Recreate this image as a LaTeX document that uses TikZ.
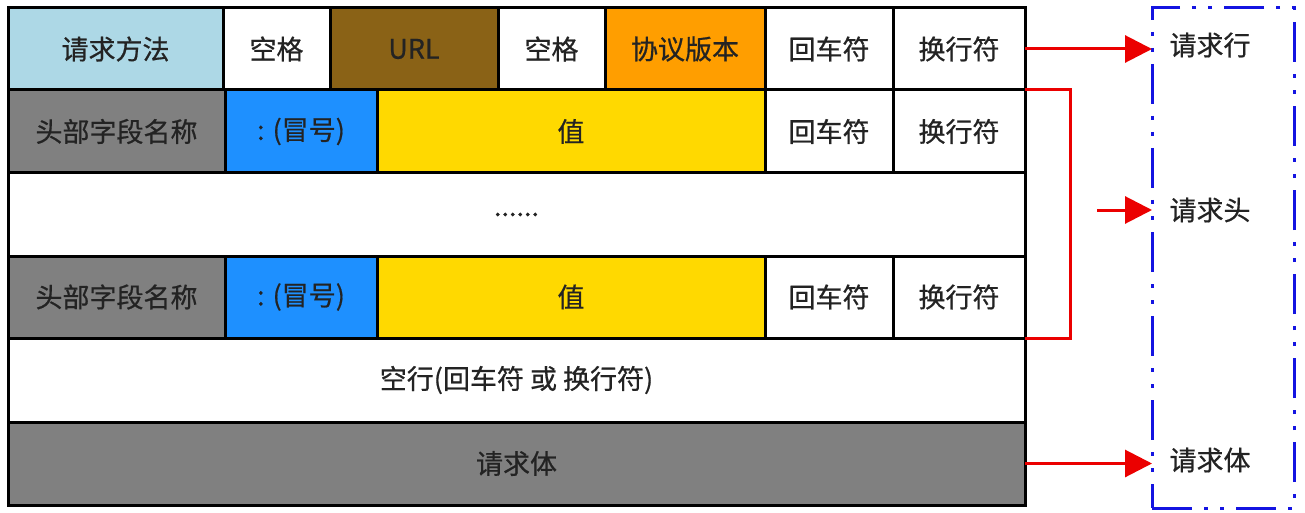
\documentclass[tikz,border=0pt]{standalone}
\usepackage{fontspec}
\setmainfont{Noto Sans CJK SC}[FakeBold=0.6]
\usetikzlibrary{arrows.meta}
\definecolor{cmethod}{RGB}{173,216,230}
\definecolor{curl}{RGB}{138,98,22}
\definecolor{cver}{RGB}{255,158,0}
\definecolor{cgray}{RGB}{128,128,128}
\definecolor{ccolon}{RGB}{30,144,255}
\definecolor{cval}{RGB}{255,217,0}
\definecolor{ctext}{RGB}{35,35,35}
\definecolor{cred}{RGB}{235,0,0}
\definecolor{cblue}{RGB}{20,20,225}
\begin{document}
\begin{tikzpicture}[x=1pt,y=-1pt,
  cell/.style={draw=black, line width=3pt, inner sep=0pt, outer sep=0pt, anchor=north west,
    text=ctext, font=\fontsize{27}{32}\selectfont},
  redarrow/.style={draw=cred, line width=3pt, -{Triangle[length=27pt,width=27pt]}},
  lbl/.style={text=ctext, font=\fontsize{27}{32}\selectfont, inner sep=0pt}]
\useasboundingbox (0,0) rectangle (1305,513);
\fill[white] (0,0) rectangle (1305,513);
% row 1
\node[cell, fill=cmethod, minimum width=215pt, minimum height=82pt] (m) at (8,8) {请求方法};
\node[cell, fill=white, minimum width=107pt, minimum height=82pt] (sp1) at (223,8) {空格};
\node[cell, fill=curl, minimum width=168pt, minimum height=82pt] (url) at (330,8) {URL};
\node[cell, fill=white, minimum width=107pt, minimum height=82pt] (sp2) at (498,8) {空格};
\node[cell, fill=cver, minimum width=160pt, minimum height=82pt] (ver) at (605,8) {协议版本};
\node[cell, fill=white, minimum width=128pt, minimum height=82pt] (cr1) at (765,8) {回车符};
\node[cell, fill=white, minimum width=132pt, minimum height=82pt] (lf1) at (893,8) {换行符};
% row 2
\node[cell, fill=cgray, minimum width=217pt, minimum height=83pt] (h1) at (8,90) {头部字段名称};
\node[cell, fill=ccolon, minimum width=152pt, minimum height=83pt] (c1) at (225,90) {: (冒号)};
\node[cell, fill=cval, minimum width=388pt, minimum height=83pt] (v1) at (377,90) {值};
\node[cell, fill=white, minimum width=128pt, minimum height=83pt] (cr2) at (765,90) {回车符};
\node[cell, fill=white, minimum width=132pt, minimum height=83pt] (lf2) at (893,90) {换行符};
% row 3
\node[cell, fill=white, minimum width=1017pt, minimum height=83pt] (dots) at (8,173) {......};
% row 4
\node[cell, fill=cgray, minimum width=217pt, minimum height=82pt] (h2) at (8,256) {头部字段名称};
\node[cell, fill=ccolon, minimum width=152pt, minimum height=82pt] (c2) at (225,256) {: (冒号)};
\node[cell, fill=cval, minimum width=388pt, minimum height=82pt] (v2) at (377,256) {值};
\node[cell, fill=white, minimum width=128pt, minimum height=82pt] (cr3) at (765,256) {回车符};
\node[cell, fill=white, minimum width=132pt, minimum height=82pt] (lf3) at (893,256) {换行符};
% row 5
\node[cell, fill=white, minimum width=1017pt, minimum height=84pt] (blank) at (8,338) {空行(回车符 或 换行符)};
% row 6
\node[cell, fill=cgray, minimum width=1017pt, minimum height=83pt] (body) at (8,422) {请求体};
% legend box
\node[draw=cblue, line width=3pt, dash pattern=on 40pt off 12pt on 4pt off 12pt on 4pt off 12pt,
  minimum width=142pt, minimum height=500pt, inner sep=0pt, outer sep=0pt, anchor=north west] (legend) at (1152,8) {};
\node[lbl] (lrl) at (1210,45) {请求行};
\node[lbl] (lrh) at (1210,210) {请求头};
\node[lbl] (lrb) at (1210,460) {请求体};
% connectors
\draw[redarrow] (lf1.east) -- (legend.west |- lf1.east);
\draw[redarrow] (body.east) -- (legend.west |- body.east);
\coordinate (bt) at (1070,90);
\coordinate (bb) at (1070,338);
\draw[cred, line width=3pt] (lf2.north east) -- (bt) -- (bb) -- (lf3.south east);
\coordinate (hs) at (1097,210);
\draw[redarrow] (hs) -- (legend.west |- hs);
\end{tikzpicture}
\end{document}
